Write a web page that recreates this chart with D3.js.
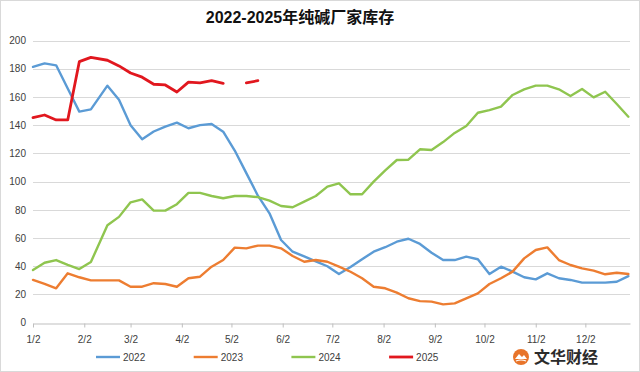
<!DOCTYPE html>
<html>
<head>
<meta charset="utf-8">
<script src="https://cdn.jsdelivr.net/npm/d3@7"></script>
<style>
  html, body { margin: 0; padding: 0; background: #fff; }
  svg { display: block; }
</style>
</head>
<body>
<svg id="chart" width="640" height="372"></svg>
<script>
// weekly sample dates (the spring-festival week is skipped)
const weeks = ["1/2","1/9","1/16","1/23","1/30","2/6","2/16","2/23","3/2","3/9","3/16","3/23","3/30",
  "4/6","4/13","4/20","4/27","5/4","5/11","5/18","5/25","6/1","6/8","6/15","6/22","6/29",
  "7/6","7/13","7/20","7/27","8/3","8/10","8/17","8/24","8/31","9/7","9/14","9/21","9/28",
  "10/5","10/12","10/19","10/26","11/2","11/9","11/16","11/23","11/30","12/7","12/14","12/21","12/28"];

const xTickLabels = ["1/2","2/2","3/2","4/2","5/2","6/2","7/2","8/2","9/2","10/2","11/2","12/2"];
const yTicks = [0, 20, 40, 60, 80, 100, 120, 140, 160, 180, 200];

const years = ["2022", "2023", "2024", "2025"];

const s2022 = [181.3, 183.8, 182.4, 166, 149.6, 151.2, 168, 158, 140, 130, 135.5, 139, 141.8,
  137.8, 140, 140.8, 135.4, 122, 106, 90, 77.5, 58.6, 50.3, 47, 43.5, 40,
  34.5, 39.5, 45, 50.3, 53.5, 57.4, 59.5, 55.8, 49.6, 44.4, 44.4, 46.8, 45,
  34.5, 39.7, 36.2, 32.2, 30.7, 35, 31.5, 30.3, 28.4, 28.4, 28.4, 29, 33];

const s2023 = [30.3, 27.5, 24.4, 35, 32.2, 30, 30, 30, 25.5, 25.5, 28, 27.4, 25.5,
  31.5, 32.6, 39.7, 44.4, 53.2, 52.7, 54.6, 54.6, 52.7, 47.3, 43.2, 44.4, 43.2,
  39.7, 36.1, 31.5, 25.5, 24.4, 21.3, 17.3, 15.3, 14.9, 13, 13.7, 17.3, 20.8,
  27.4, 31.5, 36.2, 45.6, 51.5, 53.4, 44.4, 40.9, 38.5, 36.9, 34.3, 35.4, 34.5];

const s2024 = [37.3, 42.5, 44.4, 41, 38, 43, 69, 75, 85.3, 87.4, 79.4, 79.4, 84,
  92, 92, 89.8, 88.2, 89.8, 89.8, 89, 86.5, 82.7, 81.8, 85.8, 89.8, 96.4,
  98.8, 91, 91, 100, 108, 115.3, 115.5, 122.9, 122.4, 128, 134.5, 139.4, 148.8,
  150.7, 153.1, 161.4, 165.4, 168, 168, 165.4, 160.7, 165.6, 159.7, 163.7, 155, 146];

const s2025 = [145.3, 147.2, 143.7, 143.7, 185, 188, 186, 182, 177, 174, 169, 168.5, 163.5,
  170.5, 170, 171.5, 169.6, null, 170, 171.5, null, null, null, null, null, null,
  null, null, null, null, null, null, null, null, null, null, null, null, null,
  null, null, null, null, null, null, null, null, null, null, null, null, null];

const colors = ["#5b9bd5", "#ed7d31", "#8fc54f", "#e1171e"];
const widths = [2.4, 2.4, 2.4, 2.8];

const parse = d3.timeParse("%Y/%m/%d");
const toDate = s => parse("2022/" + s);

const svg = d3.select("#chart");

// outer frame
svg.append("rect")
  .attr("x", 0.5).attr("y", 0.5)
  .attr("width", 639).attr("height", 371)
  .attr("fill", "#fff")
  .attr("stroke", "#d9d9d9");

// title
svg.append("text")
  .attr("x", 300).attr("y", 23)
  .attr("text-anchor", "middle")
  .attr("font-family", "'Liberation Sans', 'Noto Sans CJK SC', sans-serif")
  .attr("font-weight", "bold")
  .attr("font-size", 16)
  .attr("fill", "#111")
  .text("2022-2025年纯碱厂家库存");

const x = d3.scaleTime()
  .domain([toDate("1/2"), toDate("12/29")])
  .range([33, 630]);

const y = d3.scaleLinear()
  .domain([0, 200])
  .range([322.7, 40.5]);

// gridlines
svg.append("g")
  .selectAll("line")
  .data(yTicks.filter(d => d > 0))
  .join("line")
  .attr("x1", 33).attr("x2", 630)
  .attr("y1", d => Math.round(y(d)) + 0.5)
  .attr("y2", d => Math.round(y(d)) + 0.5)
  .attr("stroke", "#d9d9d9")
  .attr("stroke-width", 1);

// y axis labels
const yAxis = svg.append("g")
  .attr("transform", "translate(33,0)")
  .call(d3.axisLeft(y).tickValues(yTicks).tickSize(0).tickPadding(7));
yAxis.select(".domain").remove();
yAxis.selectAll("text")
  .attr("font-family", "'Liberation Sans', sans-serif")
  .attr("font-size", 10)
  .attr("fill", "#404040");

// x axis
const xAxis = svg.append("g")
  .attr("transform", `translate(0,${Math.round(y(0)) + 0.5})`)
  .call(d3.axisBottom(x)
    .tickValues(xTickLabels.map(toDate))
    .tickFormat((d, i) => xTickLabels[i])
    .tickSizeInner(4)
    .tickSizeOuter(0)
    .tickPadding(8));
xAxis.select(".domain").attr("stroke", "#bfbfbf");
xAxis.selectAll(".tick line").attr("stroke", "#bfbfbf");
xAxis.selectAll("text")
  .attr("font-family", "'Liberation Sans', sans-serif")
  .attr("font-size", 10)
  .attr("fill", "#404040");

// series lines
const series = [s2022, s2023, s2024, s2025];
const line = d3.line()
  .defined(d => d.v != null)
  .x(d => x(d.date))
  .y(d => y(d.v));

series.forEach((vals, k) => {
  const pts = vals.map((v, i) => ({ date: toDate(weeks[i]), v }));
  svg.append("path")
    .datum(pts)
    .attr("fill", "none")
    .attr("stroke", colors[k])
    .attr("stroke-width", widths[k])
    .attr("stroke-linejoin", "round")
    .attr("stroke-linecap", "round")
    .attr("d", line);
});

// legend
const legend = svg.append("g").attr("transform", "translate(96,357)");
years.forEach((yr, k) => {
  const g = legend.append("g").attr("transform", `translate(${k * 97.7},0)`);
  g.append("line")
    .attr("x1", 0).attr("x2", 24)
    .attr("stroke", colors[k])
    .attr("stroke-width", widths[k]);
  g.append("text")
    .attr("x", 27).attr("y", 3.5)
    .attr("font-family", "'Liberation Sans', sans-serif")
    .attr("font-size", 10)
    .attr("fill", "#404040")
    .text(yr);
});

// watermark logo
const logo = svg.append("g").attr("transform", "translate(521,357)");
logo.append("circle").attr("r", 8).attr("fill", "#e8742a");
logo.append("path")
  .attr("d", "M-6,2 L-2,-3 L1,0 L3,-2 L6,2 Z")
  .attr("fill", "#fff");
logo.append("path")
  .attr("d", "M-5,4 Q0,2 5,4")
  .attr("fill", "none")
  .attr("stroke", "#fff")
  .attr("stroke-width", 1.2);
logo.append("text")
  .attr("x", 13).attr("y", 6)
  .attr("font-family", "'Noto Sans CJK SC', sans-serif")
  .attr("font-weight", "bold")
  .attr("font-size", 16)
  .attr("fill", "#2b2b2b")
  .text("文华财经");
</script>
</body>
</html>
